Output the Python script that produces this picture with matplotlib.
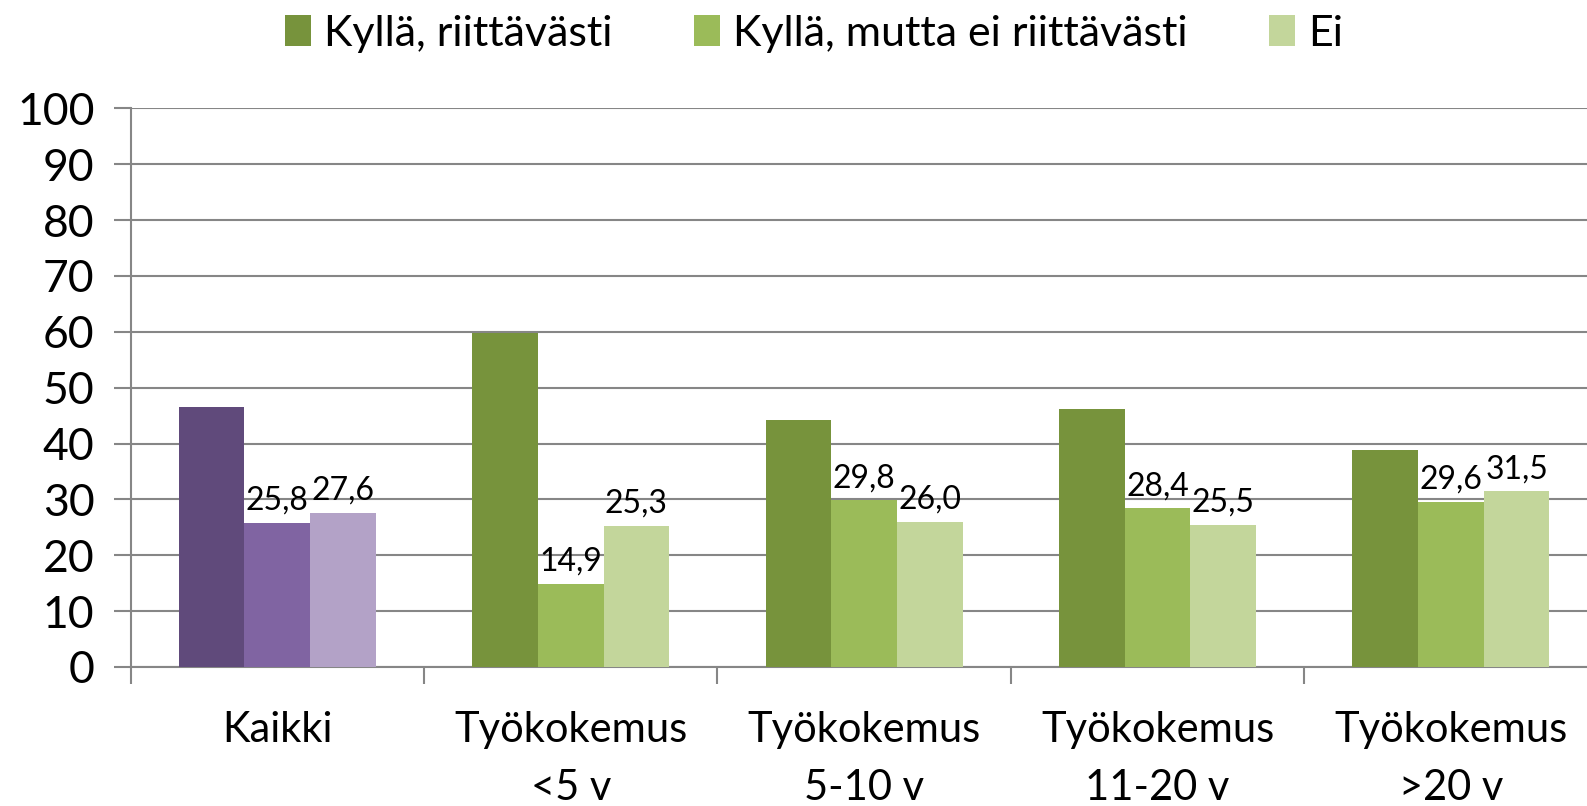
import matplotlib
matplotlib.use('Agg')
import matplotlib.pyplot as plt
import numpy as np
from matplotlib.patches import Patch

categories = ["Kaikki", "Työkokemus\n<5 v", "Työkokemus\n5-10 v", "Työkokemus\n11-20 v", "Työkokemus\n>20 v"]
series_names = ["Kyllä, riittävästi", "Kyllä, mutta ei riittävästi", "Ei"]
s1 = [46.6, 59.8, 44.2, 46.1, 38.9]
s2 = [25.8, 14.9, 29.8, 28.4, 29.6]
s3 = [27.6, 25.3, 26.0, 25.5, 31.5]
yticks = [0, 10, 20, 30, 40, 50, 60, 70, 80, 90, 100]

green = ["#77933C", "#9BBB59", "#C3D69B"]
purple = ["#604A7B", "#8064A2", "#B3A2C7"]
gridc = "#868686"

plt.rcParams['font.family'] = ['Lato', 'DejaVu Sans']

fig = plt.figure(figsize=(15.87, 8.06), dpi=100)
ax = fig.add_axes([130.6/1587, 0.1725, 1467/1587, 0.6931])

x = np.arange(len(categories))
w = 0.224
series = [s1, s2, s3]
for i, vals in enumerate(series):
    cols = [purple[i] if j == 0 else green[i] for j in range(len(categories))]
    bars = ax.bar(x + (i - 1) * w, vals, width=w, color=cols, zorder=3, linewidth=0)
    if i > 0:
        for b, v in zip(bars, vals):
            ax.annotate(f"{v:.1f}".replace('.', ','), (b.get_x() + b.get_width()/2, v),
                        xytext=(0, 5), textcoords='offset points', ha='center', va='bottom',
                        fontsize=23, zorder=4)

ax.set_xlim(-0.5, len(categories) - 0.5)
ax.set_ylim(0, 100)
ax.set_yticks(yticks)
ax.yaxis.grid(True, color=gridc, linewidth=1.5, zorder=0)
ax.set_axisbelow(True)
ax.tick_params(axis='y', labelsize=32, length=12, width=1.5, color=gridc, direction='out', pad=14)

ax.set_xticks(x)
ax.set_xticklabels(categories, fontsize=30, linespacing=1.62)
ax.set_xticks(np.arange(-0.5, len(categories) + 0.5, 1), minor=True)
ax.tick_params(axis='x', which='major', length=0, pad=32)
ax.tick_params(axis='x', which='minor', length=12, width=1.5, color=gridc, direction='out')

for s in ['top', 'right']:
    ax.spines[s].set_visible(False)
for s in ['left', 'bottom']:
    ax.spines[s].set_color(gridc)
    ax.spines[s].set_linewidth(1.5)

handles = [Patch(facecolor=green[i], edgecolor='none', label=series_names[i]) for i in range(3)]
fig.legend(handles=handles, loc='upper center', bbox_to_anchor=(0.513, 1.03), ncol=3,
           frameon=False, fontsize=31, handlelength=0.6, handleheight=0.7, handletextpad=0.3,
           columnspacing=1.9)

fig.savefig('out.png', dpi=100)
